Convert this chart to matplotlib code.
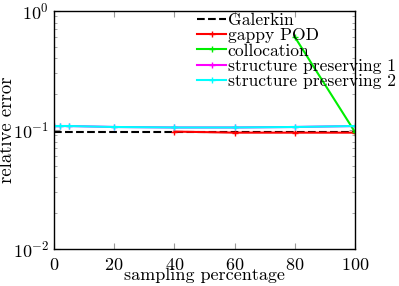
import matplotlib
matplotlib.use("Agg")
import matplotlib.pyplot as plt

plt.rcParams['font.family'] = ['cmr10', 'DejaVu Serif']
plt.rcParams['mathtext.fontset'] = 'cm'
plt.rcParams['axes.formatter.use_mathtext'] = True
plt.rcParams['font.size'] = 13

galerkin_x = [0, 100]
galerkin_y = [0.097, 0.097]
gappy_x = [40, 60, 80, 100]
gappy_y = [0.097, 0.095, 0.095, 0.095]
colloc_x = [80, 100]
colloc_y = [0.605, 0.096]
sp1_x = [0, 2, 5, 20, 40, 60, 80, 100]
sp1_y = [0.108, 0.108, 0.108, 0.106, 0.105, 0.105, 0.106, 0.108]
sp2_x = [0, 2, 5, 20, 40, 60, 80, 100]
sp2_y = [0.108, 0.108, 0.108, 0.106, 0.105, 0.105, 0.106, 0.108]

fig = plt.figure(figsize=(3.99, 2.86), dpi=100)
ax = fig.add_axes([54/399, 1 - 249/286, 301/399, 238/286])

ax.plot(galerkin_x, galerkin_y, 'k--', lw=1.5, label='Galerkin')
ax.plot(gappy_x, gappy_y, color='#ff0000', marker='+', ms=4, lw=1.5, label='gappy POD')
ax.plot(colloc_x, colloc_y, color='#00ee00', marker='+', ms=4, lw=1.5, label='collocation')
ax.plot(sp1_x, sp1_y, color='#ff00ff', marker='+', ms=4, lw=1.5, label='structure preserving 1')
ax.plot(sp2_x, sp2_y, color='#00ffff', marker='+', ms=4, lw=1.5, label='structure preserving 2')

ax.set_yscale('log')
ax.set_xlim(0, 100)
ax.set_ylim(1e-2, 1)
ax.set_xticks([0, 20, 40, 60, 80, 100])
ax.tick_params(which='both', direction='in', top=True, right=True, color='0.6')
ax.tick_params(which='major', length=4)
ax.tick_params(which='minor', length=2)
ax.tick_params(axis='x', pad=6)
for s in ax.spines.values():
    s.set_linewidth(1.0)

ax.set_xlabel('sampling percentage', labelpad=-4)
ax.set_ylabel('relative error', fontsize=13.5)
ax.yaxis.set_label_coords(-0.125, 0.5)

ax.legend(loc='upper left', bbox_to_anchor=(0.453, 1.023), frameon=False,
          fontsize=12.6, handlelength=1.65, handletextpad=0.08, labelspacing=0.0,
          borderaxespad=0)

fig.savefig('out.png', dpi=100)
